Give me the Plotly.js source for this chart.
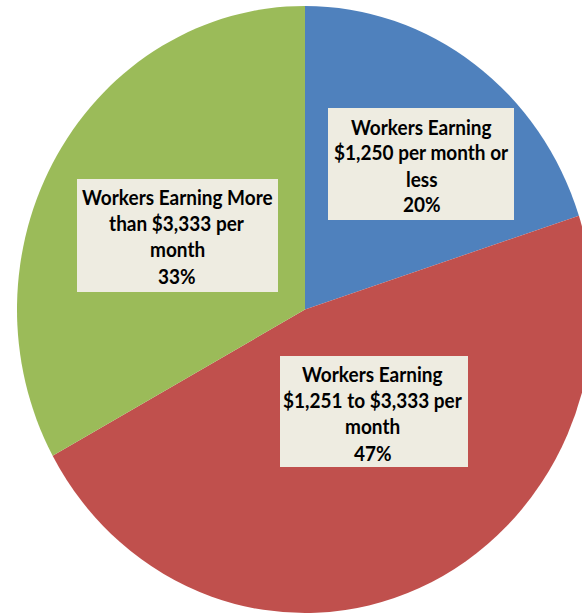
<!DOCTYPE html>
<html>
<head>
<meta charset="utf-8">
<script src="https://cdn.plot.ly/plotly-3.0.1.min.js"></script>
<style>
html, body { margin: 0; padding: 0; overflow: hidden; background: #fff; width: 582px; height: 615px; }
#chart { width: 610px; height: 615px; transform-origin: 0px 309.5px; transform: scaleY(1.054); }
</style>
</head>
<body>
<div id="chart"></div>
<script>
// ---- data ----
var categories = [
  "Workers Earning<br>$1,250 per month or<br>less",
  "Workers Earning<br>$1,251 to $3,333 per<br>month",
  "Workers Earning More<br>than $3,333 per<br>month"
];
var values = [20, 47, 33];
var sliceColors = ["#4F81BD", "#C0504D", "#9BBB59"];

// ---- page geometry (the chart is stretched vertically by S about y = CY, as in the original) ----
var W = 610, H = 615;
var S = 1.054, CY = 309.5;
var cx = 305, r = 288;
function px(x) { return x / W; }
// convert a target on-screen y into the paper coordinate before the vertical stretch
function py(y) { var y0 = CY + (y - CY) / S; return 1 - y0 / H; }

// label boxes on screen: [left, top, right, bottom] and line centre y positions
var boxes = [
  { l: 328, t: 108, r: 514, b: 220, cxp: 422, lines: [127, 152.7, 178.3, 204] },
  { l: 280, t: 356, r: 468, b: 467, cxp: 373, lines: [373.3, 399.7, 426, 452.5] },
  { l: 77,  t: 179, r: 278, b: 292, cxp: 177, lines: [197, 223.2, 249.4, 275.5] }
];

var shapes = [];
var annotations = [];
categories.forEach(function (cat, i) {
  var bx = boxes[i];
  shapes.push({
    type: "rect", xref: "paper", yref: "paper",
    x0: px(bx.l), x1: px(bx.r), y0: py(bx.b), y1: py(bx.t),
    fillcolor: "#EEECE1", line: { width: 0 }, layer: "above"
  });
  var lines = cat.split("<br>").concat([values[i] + "%"]);
  lines.forEach(function (txt, j) {
    annotations.push({
      xref: "paper", yref: "paper",
      x: px(bx.cxp), y: py(bx.lines[j]),
      xanchor: "center", yanchor: "middle",
      text: "<b>" + txt + "</b>",
      showarrow: false,
      font: { family: "Lato, 'Open Sans', sans-serif", size: 19, color: "#000000" }
    });
  });
});

var trace = {
  type: "pie",
  labels: categories,
  values: values,
  marker: { colors: sliceColors, line: { width: 0 } },
  sort: false,
  direction: "clockwise",
  rotation: 0,
  textinfo: "none",
  hoverinfo: "label+percent",
  showlegend: false,
  domain: { x: [px(cx - r), px(cx + r)], y: [1 - (CY + r) / H, 1 - (CY - r) / H] }
};

var layout = {
  width: W, height: H,
  margin: { l: 0, r: 0, t: 0, b: 0, pad: 0 },
  paper_bgcolor: "rgba(0,0,0,0)",
  plot_bgcolor: "rgba(0,0,0,0)",
  showlegend: false,
  shapes: shapes,
  annotations: annotations
};

Plotly.newPlot("chart", [trace], layout, { displayModeBar: false, staticPlot: true });
</script>
</body>
</html>
